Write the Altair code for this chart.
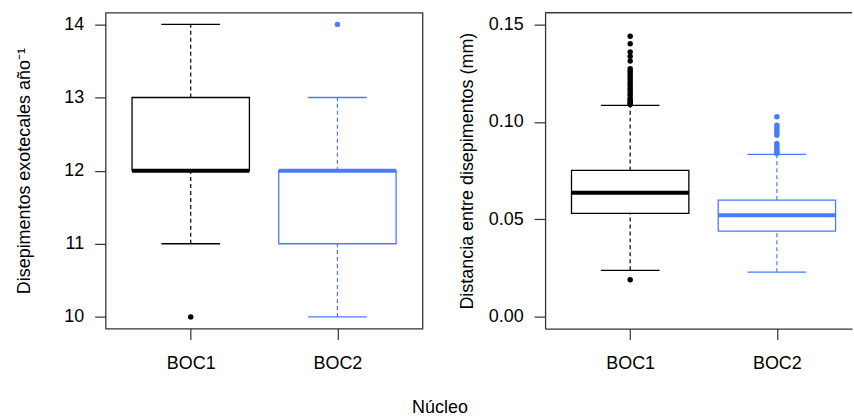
import altair as alt
import pandas as pd

# Core groups and their positions on the x axis
groups = ["BOC1", "BOC2"]
positions = [1, 2]
colors = ["#000000", "#4a7bff"]

# Disepimentos exotecales por año: five-number summaries and outliers
dis_lo = [11, 10]
dis_q1 = [12, 11]
dis_med = [12, 12]
dis_q3 = [13, 12]
dis_hi = [14, 13]
dis_out_boc1 = [10]
dis_out_boc2 = [14]

# Distancia entre disepimentos (mm): five-number summaries and outliers
dist_lo = [0.0239, 0.0229]
dist_q1 = [0.0531, 0.0440]
dist_med = [0.0636, 0.0521]
dist_q3 = [0.0751, 0.0599]
dist_hi = [0.1085, 0.0833]
dist_out_boc1 = [0.0190, 0.1439, 0.1401, 0.1359, 0.1336, 0.1312, 0.1273,
                 0.1260, 0.1248, 0.1235, 0.1222, 0.1210, 0.1197, 0.1185,
                 0.1171, 0.1160, 0.1146, 0.1135, 0.1120, 0.1112, 0.1103,
                 0.1095, 0.1089]
dist_out_boc2 = [0.1026, 0.0983, 0.0970, 0.0957, 0.0945, 0.0932, 0.0889,
                 0.0876, 0.0864, 0.0852, 0.0846, 0.0838]

# Layout and style constants
PLOT_H = 317
LEFT_W = 318
RIGHT_W = 308
X_UNIT = LEFT_W / 2.16          # pixels per x unit (R-style 4% expansion)
BOX_HALF = 0.4
CAP_HALF = 0.2
FRAME = "#333333"
FONT = "Liberation Sans"
FS = 18

label_expr = " : ".join(
    f"datum.value == {p} ? '{g}'" for p, g in zip(positions, groups)
) + " : ''"


def stats_table(lo, q1, med, q3, hi):
    return pd.DataFrame({
        "group": groups, "pos": positions, "color": colors,
        "lo": lo, "q1": q1, "med": med, "q3": q3, "hi": hi,
    })


def outlier_table(out1, out2):
    rows = [{"pos": positions[0], "color": colors[0], "v": v} for v in out1]
    rows += [{"pos": positions[1], "color": colors[1], "v": v} for v in out2]
    return pd.DataFrame(rows)


def panel(stats, outs, y_domain, y_ticks, y_format, y_title, y_title_x,
          x_domain, width, x_title, framed):
    xs = alt.Scale(domain=x_domain, nice=False, zero=False)
    ys = alt.Scale(domain=y_domain, nice=False, zero=False)
    x_axis = alt.Axis(
        values=positions, labelExpr=label_expr, title=x_title,
        titleX=335, titleY=84, titleBaseline="alphabetic", titleAnchor="middle",
        tickSize=11, labelPadding=15, domain=not framed, grid=False,
    )
    y_axis = alt.Axis(
        values=y_ticks, format=y_format, title=y_title,
        titleX=y_title_x, titleY=PLOT_H / 2, titleBaseline="alphabetic",
        titleAngle=270, tickSize=11, labelPadding=11, domain=not framed,
        grid=False,
    )
    col = alt.Color("color:N", scale=None)
    base = alt.Chart(stats).transform_calculate(
        left=f"datum.pos - {BOX_HALF}", right=f"datum.pos + {BOX_HALF}",
        cap_l=f"datum.pos - {CAP_HALF}", cap_r=f"datum.pos + {CAP_HALF}",
    )

    def X(f):
        return alt.X(f, type="quantitative", scale=xs, axis=x_axis)

    def Y(f):
        return alt.Y(f, type="quantitative", scale=ys, axis=y_axis)

    whisk_lo = base.mark_rule(strokeDash=[4, 3], strokeWidth=1.2).encode(
        x=X("pos"), y=Y("lo"), y2="q1:Q", color=col)
    whisk_hi = base.mark_rule(strokeDash=[4, 3], strokeWidth=1.2).encode(
        x=X("pos"), y=Y("q3"), y2="hi:Q", color=col)
    cap_lo = base.mark_rule(strokeWidth=1.3).encode(
        x=X("cap_l"), x2="cap_r:Q", y=Y("lo"), color=col)
    cap_hi = base.mark_rule(strokeWidth=1.3).encode(
        x=X("cap_l"), x2="cap_r:Q", y=Y("hi"), color=col)
    box = base.mark_rect(fill="white", strokeWidth=1.3).encode(
        x=X("left"), x2="right:Q", y=Y("q1"), y2="q3:Q",
        stroke=alt.Stroke("color:N", scale=None))
    median = base.mark_rule(strokeWidth=4).encode(
        x=X("left"), x2="right:Q", y=Y("med"), color=col)
    points = alt.Chart(outs).mark_circle(size=30, opacity=1).encode(
        x=X("pos"), y=Y("v"), color=col)

    layers = [whisk_lo, whisk_hi, box, median, cap_lo, cap_hi, points]
    if framed:
        view = alt.ViewBackground(stroke=FRAME, strokeWidth=1.3)
    else:
        view = alt.ViewBackground(stroke="transparent")
        top_edge = alt.Chart(stats).mark_rule(
            color=FRAME, strokeWidth=1.3).encode(
            x=alt.value(0), x2=alt.value(width), y=alt.value(0))
        layers.append(top_edge)
    return alt.layer(*layers).properties(width=width, height=PLOT_H, view=view)


left = panel(
    stats_table(dis_lo, dis_q1, dis_med, dis_q3, dis_hi),
    outlier_table(dis_out_boc1, dis_out_boc2),
    [9.84, 14.16], [10, 11, 12, 13, 14], "d",
    "Disepimentos exotecales año\u207b\u00b9", -76,
    [0.42, 2.58], LEFT_W, "Núcleo", True,
)
right = panel(
    stats_table(dist_lo, dist_q1, dist_med, dist_q3, dist_hi),
    outlier_table(dist_out_boc1, dist_out_boc2),
    [-0.006, 0.156], [0.0, 0.05, 0.10, 0.15], ".2f",
    "Distancia entre disepimentos (mm)", -73,
    [0.42, 0.42 + RIGHT_W / X_UNIT], RIGHT_W, "", False,
)

chart = alt.hconcat(left, right, spacing=123, bounds="flush").properties(
    padding={"left": 15, "top": 10, "right": 0, "bottom": 0},
    background="white",
).configure_axis(
    labelFont=FONT, labelFontSize=FS, labelColor="#000000",
    titleFont=FONT, titleFontSize=FS, titleColor="#000000", titleFontWeight="normal",
    tickColor=FRAME, tickWidth=1.2, domainColor=FRAME, domainWidth=1.3,
)

chart.save("out.html", embed_options={"renderer": "svg", "actions": False})
